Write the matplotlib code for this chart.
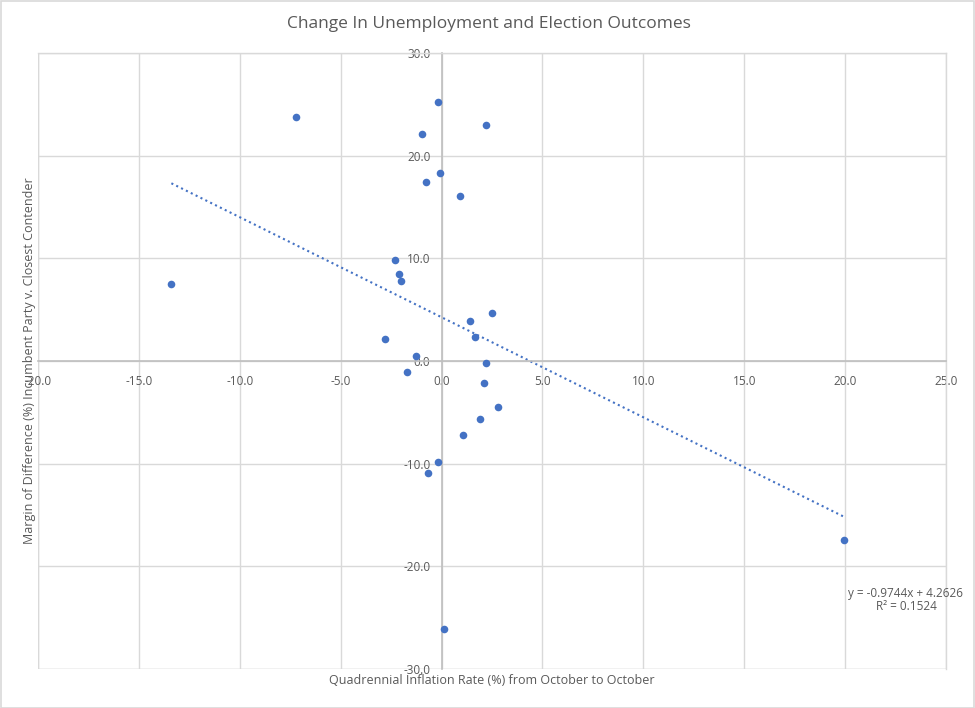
import matplotlib
matplotlib.use("Agg")
import matplotlib.pyplot as plt
import numpy as np
from matplotlib.patches import Rectangle

plt.rcParams['font.family'] = ['Open Sans', 'DejaVu Sans']

# ---- data ----
inflation = [-0.20, -7.19, 2.21, -0.98, -0.08, -0.76, 0.91,
             -2.32, -2.10, -2.00, -13.39, 2.52, 1.42, 1.64,
             -2.78, -1.29, 2.21, -1.69, 2.11, 2.82, 1.92,
             1.04, -0.18, -0.66, 19.95, 0.10]
margin = [25.25, 23.8, 23.0, 22.07, 18.27, 17.43, 16.03,
          9.86, 8.5, 7.75, 7.5, 4.7, 3.9, 2.37,
          2.1, 0.52, -0.23, -1.1, -2.11, -4.52, -5.65,
          -7.24, -9.83, -10.9, -17.4, -26.1]
trend_slope = -0.9744
trend_intercept = 4.2626
r_squared = 0.1524
x_ticks = [-20, -15, -10, -5, 0, 5, 10, 15, 20, 25]
y_ticks = [-30, -20, -10, 0, 10, 20, 30]

title = "Change In Unemployment and Election Outcomes"
xlabel = "Quadrennial Inflation Rate (%) from October to October"
ylabel = "Margin of Difference (%) Incumbent Party v. Closest Contender"

BLUE = "#4472C4"
GRID = "#d9d9d9"
AXIS = "#bfbfbf"
TXT = "#595959"

W, H = 975, 708
fig = plt.figure(figsize=(W / 100, H / 100), dpi=100)
fig.patches.append(Rectangle((0.5 / W, 0.5 / H), 1 - 1.5 / W, 1 - 1.5 / H,
                             transform=fig.transFigure, fill=False,
                             edgecolor=GRID, linewidth=1.2))

ax = fig.add_axes([38 / W, 39 / H, 908 / W, 616 / H])
ax.set_xlim(-20, 25)
ax.set_ylim(-30, 30)
ax.set_xticks(x_ticks)
ax.set_yticks(y_ticks)
ax.set_xticklabels([f"{v:.1f}" for v in x_ticks])
ax.set_yticklabels([f"{v:.1f}" for v in y_ticks])
ax.grid(True, color=GRID, linewidth=1.0, zorder=0)
ax.set_axisbelow(True)

for s in ['top', 'right']:
    ax.spines[s].set_color(GRID)
    ax.spines[s].set_linewidth(1.0)
ax.spines['left'].set_position(('data', 0))
ax.spines['bottom'].set_position(('data', 0))
ax.spines['left'].set_color(AXIS)
ax.spines['bottom'].set_color(AXIS)
ax.spines['left'].set_linewidth(1.2)
ax.spines['bottom'].set_linewidth(1.2)
ax.tick_params(axis='both', length=0, labelsize=8.5, labelcolor=TXT)
ax.tick_params(axis='x', pad=10)
ax.tick_params(axis='y', pad=8)

# extra edge lines (left and bottom of plot area)
ax.axvline(-20, color=GRID, linewidth=1.0, zorder=0)
ax.axhline(-30, color=GRID, linewidth=1.0, zorder=0)

ax.scatter(inflation, margin, s=30, color=BLUE, zorder=3, linewidths=0)

xs = np.array([min(inflation), max(inflation)])
ax.plot(xs, trend_slope * xs + trend_intercept, color=BLUE,
        linestyle=(0, (1, 1.6)), linewidth=1.5, zorder=2)

fig.text(906 / W, 1 - 600 / H,
         f"y = {trend_slope:.4f}x + {trend_intercept:.4f}\nR² = {r_squared:.4f}",
         ha='center', va='center', fontsize=8.5, color=TXT, linespacing=1.1)

fig.text(489 / W, 1 - 24 / H, title, ha='center', va='center',
         fontsize=12.5, color=TXT)
fig.text(492 / W, 1 - 681 / H, xlabel, ha='center', va='center',
         fontsize=9, color=TXT)
fig.text(30 / W, 1 - 361 / H, ylabel, ha='center', va='center',
         rotation=90, fontsize=9, color=TXT)

fig.savefig("out.png", dpi=100)
